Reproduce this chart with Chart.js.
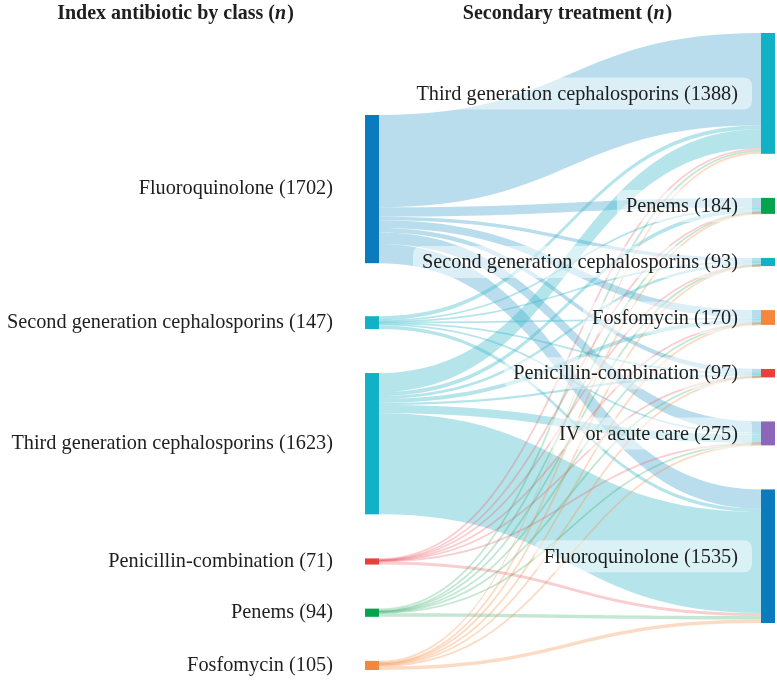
<!DOCTYPE html>
<html>
<head>
<meta charset="utf-8">
<script src="https://cdn.jsdelivr.net/npm/chart.js@4/dist/chart.umd.min.js"></script>
<style>
  html, body { margin: 0; padding: 0; background: #fff; }
  #wrap { width: 777px; height: 682px; position: relative; }
</style>
</head>
<body>
<div id="wrap"><canvas id="sankeyChart"></canvas></div>
<script>
// index antibiotic (left column), top to bottom
var sourceClasses = ['Fluoroquinolone', 'Second generation cephalosporins', 'Third generation cephalosporins',
    'Penicillin-combination', 'Penems', 'Fosfomycin'];
// secondary treatment (right column), top to bottom
var targetClasses = ['Third generation cephalosporins', 'Penems', 'Second generation cephalosporins',
    'Fosfomycin', 'Penicillin-combination', 'IV or acute care', 'Fluoroquinolone'];

// patients moving from each index class to each secondary treatment (order of targetClasses)
var fromFluoroquinolone = [1060, 108, 40, 91, 51, 132, 220];
var fromSecondGen = [45, 12, 10, 12, 8, 20, 40];
var fromThirdGen = [220, 45, 32, 45, 26, 95, 1160];
var fromPenicillinComb = [18, 3, 2, 4, 3, 6, 35];
var fromPenems = [20, 10, 5, 6, 4, 9, 40];
var fromFosfomycin = [25, 6, 4, 12, 5, 13, 40];

var flows = [fromFluoroquinolone, fromSecondGen, fromThirdGen, fromPenicillinComb, fromPenems, fromFosfomycin];

var nodeColors = {
    'Fluoroquinolone': '#0b7bbd',
    'Second generation cephalosporins': '#12b1c6',
    'Third generation cephalosporins': '#12b1c6',
    'Penicillin-combination': '#e8403a',
    'Penems': '#07a24e',
    'Fosfomycin': '#f5873a',
    'IV or acute care': '#8c66b8'
};
var linkColors = {
    'Fluoroquinolone': 'rgba(100, 180, 212, 0.45)',
    'Second generation cephalosporins': 'rgba(50, 182, 200, 0.36)',
    'Third generation cephalosporins': 'rgba(50, 182, 200, 0.36)',
    'Penicillin-combination': 'rgba(232, 80, 90, 0.28)',
    'Penems': 'rgba(20, 160, 80, 0.25)',
    'Fosfomycin': 'rgba(245, 135, 58, 0.3)'
};

// layout (in flow units along the y scale)
var gap = 506;
var leftOffset = 942;
var leftExtraGap = 103;
var nodeWidth = 14;
var thinLink = 1.8;
var serif = '"Liberation Serif", "Times New Roman", serif';
var labelFont = '20.3px ' + serif;

var sourceTotals = flows.map(row => row.reduce((a, b) => a + b, 0));
var targetTotals = targetClasses.map((t, j) => flows.reduce((a, row) => a + row[j], 0));

function stack(totals, start, extraAfterFirst) {
    var tops = [];
    var pos = start;
    totals.forEach((v, i) => {
        tops.push(pos);
        pos += v + gap + (i === 0 ? extraAfterFirst : 0);
    });
    return { tops: tops, end: pos - gap };
}
var leftStack = stack(sourceTotals, leftOffset, leftExtraGap);
var rightStack = stack(targetTotals, 0, 0);
var yMax = Math.max(leftStack.end, rightStack.end);

function roundRect(ctx, x, y, w, h, r) {
    ctx.beginPath();
    ctx.moveTo(x + r, y);
    ctx.lineTo(x + w - r, y);
    ctx.quadraticCurveTo(x + w, y, x + w, y + r);
    ctx.lineTo(x + w, y + h - r);
    ctx.quadraticCurveTo(x + w, y + h, x + w - r, y + h);
    ctx.lineTo(x + r, y + h);
    ctx.quadraticCurveTo(x, y + h, x, y + h - r);
    ctx.lineTo(x, y + r);
    ctx.quadraticCurveTo(x, y, x + r, y);
    ctx.closePath();
}

var sankeyPlugin = {
    id: 'sankey',
    afterDatasetsDraw(chart) {
        var ctx = chart.ctx;
        var xs = chart.scales.x, ys = chart.scales.y;
        var xL = xs.getPixelForValue(0), xR = xs.getPixelForValue(1);
        var x0 = xL + nodeWidth, x1 = xR - nodeWidth, xm = (x0 + x1) / 2;
        var Y = v => ys.getPixelForValue(v);

        ctx.save();
        // links
        var tgtCursor = rightStack.tops.slice();
        flows.forEach((row, i) => {
            var srcCursor = leftStack.tops[i];
            row.forEach((v, j) => {
                if (v <= 0) return;
                var s0 = Y(srcCursor), s1 = Y(srcCursor + v);
                var t0 = Y(tgtCursor[j]), t1 = Y(tgtCursor[j] + v);
                srcCursor += v;
                tgtCursor[j] += v;
                var color = linkColors[sourceClasses[i]];
                if (s1 - s0 < thinLink) {
                    // very small links are drawn as a fine line along their middle
                    var sm = (s0 + s1) / 2, tm = (t0 + t1) / 2;
                    ctx.strokeStyle = color;
                    ctx.lineWidth = thinLink;
                    ctx.beginPath();
                    ctx.moveTo(x0, sm);
                    ctx.bezierCurveTo(xm, sm, xm, tm, x1, tm);
                    ctx.stroke();
                    return;
                }
                ctx.beginPath();
                ctx.moveTo(x0, s0);
                ctx.bezierCurveTo(xm, s0, xm, t0, x1, t0);
                ctx.lineTo(x1, t1);
                ctx.bezierCurveTo(xm, t1, xm, s1, x0, s1);
                ctx.closePath();
                ctx.fillStyle = color;
                ctx.fill();
            });
        });

        // nodes
        sourceClasses.forEach((name, i) => {
            var top = Y(leftStack.tops[i]), bot = Y(leftStack.tops[i] + sourceTotals[i]);
            ctx.fillStyle = nodeColors[name];
            ctx.fillRect(xL, top, nodeWidth, bot - top);
        });
        targetClasses.forEach((name, j) => {
            var top = Y(rightStack.tops[j]), bot = Y(rightStack.tops[j] + targetTotals[j]);
            ctx.fillStyle = nodeColors[name];
            ctx.fillRect(x1, top, nodeWidth, bot - top);
        });

        // labels
        ctx.font = labelFont;
        ctx.textBaseline = 'middle';
        ctx.textAlign = 'right';
        ctx.fillStyle = '#1e1e1e';
        sourceClasses.forEach((name, i) => {
            var cy = Y(leftStack.tops[i] + sourceTotals[i] / 2);
            ctx.fillText(name + ' (' + sourceTotals[i] + ')', xL - 32, cy);
        });
        targetClasses.forEach((name, j) => {
            var cy = Y(rightStack.tops[j] + targetTotals[j] / 2);
            var text = name + ' (' + targetTotals[j] + ')';
            var tx = x1 - 23;
            var w = ctx.measureText(text).width;
            ctx.fillStyle = 'rgba(255, 255, 255, 0.5)';
            roundRect(ctx, tx - w - 9, cy - 16, w + 23, 32, 9);
            ctx.fill();
            ctx.fillStyle = '#1e1e1e';
            ctx.fillText(text, tx, cy + 1);
        });

        // column headers, with bold italic n
        function header(main, cx) {
            var boldFont = 'bold 20px ' + serif;
            var italicFont = 'italic bold 20px ' + serif;
            ctx.textAlign = 'left';
            ctx.font = boldFont;
            var a = main + ' (', c = ')';
            var wa = ctx.measureText(a).width, wc = ctx.measureText(c).width;
            ctx.font = italicFont;
            var wb = ctx.measureText('n').width;
            var left = cx - (wa + wb + wc) / 2;
            ctx.fillStyle = '#1e1e1e';
            ctx.font = boldFont;
            ctx.fillText(a, left, 14);
            ctx.font = italicFont;
            ctx.fillText('n', left + wa, 14);
            ctx.font = boldFont;
            ctx.fillText(c, left + wa + wb + 1, 14);
        }
        header('Index antibiotic by class', 175);
        header('Secondary treatment', 567);
        ctx.restore();
    }
};

var ctx = document.getElementById('sankeyChart').getContext('2d');

var myChart = new Chart(ctx, {
    type: 'scatter',
    data: {
        datasets: [{ data: [] }]
    },
    options: {
        responsive: true,
        maintainAspectRatio: false,
        animation: false,
        layout: {
            padding: {
                left: 365,
                right: 2,
                top: 33,
                bottom: 12
            }
        },
        plugins: {
            legend: { display: false },
            tooltip: { enabled: false },
            title: { display: false }
        },
        scales: {
            x: {
                type: 'linear',
                min: 0,
                max: 1,
                display: false
            },
            y: {
                type: 'linear',
                min: 0,
                max: yMax,
                reverse: true,
                display: false
            }
        }
    },
    plugins: [sankeyPlugin]
});
</script>
</body>
</html>
